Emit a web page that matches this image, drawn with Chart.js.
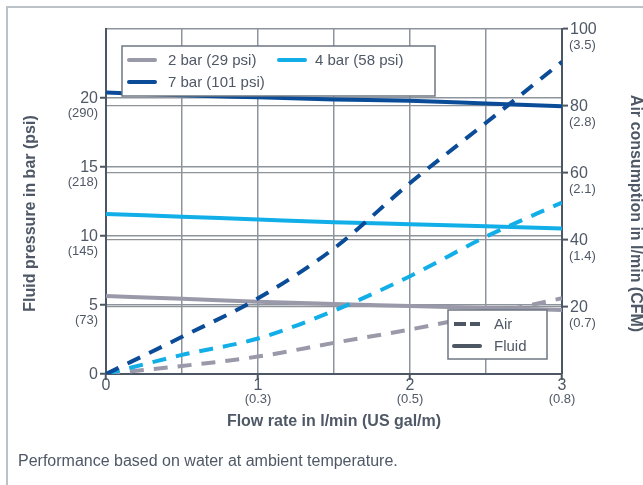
<!DOCTYPE html>
<html>
<head>
<meta charset="utf-8">
<title>Flow rate chart</title>
<script src="https://cdn.jsdelivr.net/npm/chart.js@4.4.1/dist/chart.umd.min.js"></script>
<style>
  html, body { margin: 0; padding: 0; background: #fff; }
  #wrap { position: relative; width: 643px; height: 485px; overflow: hidden; }
  #frame { position: absolute; left: 6px; top: 6px; width: 700px; height: 600px;
           border-left: 2px solid #bcc1c7; border-top: 2px solid #bcc1c7; }
  #chart { position: absolute; left: 0; top: 0; }
  #note { position: absolute; left: 18px; top: 452px; line-height: 18px;
          font: 16px 'Liberation Sans', Arial, sans-serif; color: #4f5866; }
</style>
</head>
<body>
<div id="wrap">
  <div id="frame"></div>
  <canvas id="chart" width="643" height="485"></canvas>
  <div id="note">Performance based on water at ambient temperature.</div>
</div>
<script>
// flow rate in l/min
const flow = [0, 0.5, 1, 1.5, 2, 2.5, 3];

const pressureNames = ['2 bar (29 psi)', '4 bar (58 psi)', '7 bar (101 psi)'];

// fluid pressure, bar (left axis)
const fluid2 = [5.65, 5.45, 5.24, 5.07, 4.93, 4.78, 4.64];
const fluid4 = [11.6, 11.4, 11.2, 11.0, 10.85, 10.7, 10.55];
const fluid7 = [20.4, 20.2, 20.05, 19.9, 19.8, 19.6, 19.4];

// air consumption, l/min (right axis)
const air2 = [0, 2.4, 5.2, 9.3, 13.3, 17.8, 22.6];
const air4 = [0, 5.7, 10.6, 18.9, 29.2, 41.0, 51.2];
const air7 = [0, 11.1, 22.6, 37.5, 57.0, 75.0, 93.2];

// tick labels
const barTicks = [0, 5, 10, 15, 20];
const psiLabels = ['', '(73)', '(145)', '(218)', '(290)'];
const airTicks = [20, 40, 60, 80, 100];
const cfmLabels = ['(0.7)', '(1.4)', '(2.1)', '(2.8)', '(3.5)'];
const flowTicks = [0, 1, 2, 3];
const galLabels = ['', '(0.3)', '(0.5)', '(0.8)'];

const airAxisMax = 103;

const FONT = "'Liberation Sans', Arial, Helvetica, sans-serif";
const TEXT = '#4f5866';
const AXIS = '#4d5663';
const GRID = '#8d949c';
const colors = ['#9a99aa', '#12aee8', '#0b4c98'];

function series(values, label, color, axis, dash) {
    return {
        label: label,
        yAxisID: axis,
        data: flow.map((f, i) => ({ x: f, y: values[i] })),
        borderColor: color,
        borderWidth: 4,
        borderDash: dash,
        pointRadius: 0,
        fill: false,
        cubicInterpolationMode: 'monotone'
    };
}

// first dataset ends up on top, so air curves go first
const datasets = [
    series(air7, pressureNames[2], colors[2], 'y1', [14, 10]),
    series(air4, pressureNames[1], colors[1], 'y1', [14, 10]),
    series(air2, pressureNames[0], colors[0], 'y1', [14, 10]),
    series(fluid7, pressureNames[2], colors[2], 'y', []),
    series(fluid4, pressureNames[1], colors[1], 'y', []),
    series(fluid2, pressureNames[0], colors[0], 'y', [])
];

function sample(ctx, x, y, color, dash) {
    ctx.beginPath();
    ctx.setLineDash(dash);
    ctx.lineCap = dash.length ? 'butt' : 'round';
    ctx.strokeStyle = color;
    ctx.lineWidth = 4;
    ctx.moveTo(x, y);
    ctx.lineTo(x + 26, y);
    ctx.stroke();
    ctx.setLineDash([]);
}

function box(ctx, x, y, w, h) {
    ctx.fillStyle = '#fff';
    ctx.fillRect(x, y, w, h);
    ctx.strokeStyle = '#6f7782';
    ctx.lineWidth = 1.5;
    ctx.strokeRect(x, y, w, h);
}

const legendBoxes = {
    id: 'legendBoxes',
    afterDatasetsDraw(chart) {
        const ctx = chart.ctx;
        const a = chart.chartArea;
        ctx.save();
        ctx.font = '15px ' + FONT;
        ctx.textBaseline = 'middle';
        ctx.textAlign = 'left';

        // pressures
        let bx = a.left + 16, by = a.top + 17;
        box(ctx, bx, by, 313, 50);
        const spots = [[bx + 7, by + 14], [bx + 157, by + 14], [bx + 7, by + 36]];
        pressureNames.forEach((name, i) => {
            const [sx, sy] = spots[i];
            sample(ctx, sx, sy, colors[i], []);
            ctx.fillStyle = TEXT;
            ctx.fillText(name, sx + (i === 1 ? 36 : 39), sy + 1);
        });

        // line styles
        bx = a.left + 342; by = a.top + 281;
        box(ctx, bx, by, 99, 49);
        sample(ctx, bx + 6, by + 14, AXIS, [12, 4]);
        sample(ctx, bx + 6, by + 36, AXIS, []);
        ctx.fillStyle = TEXT;
        ctx.fillText('Air', bx + 46, by + 15);
        ctx.fillText('Fluid', bx + 46, by + 37);
        ctx.restore();
    }
};

const axisText = {
    id: 'axisText',
    afterDraw(chart) {
        const ctx = chart.ctx;
        const { x, y, y1 } = chart.scales;
        const a = chart.chartArea;
        ctx.save();
        ctx.fillStyle = TEXT;
        ctx.textBaseline = 'middle';

        ctx.textAlign = 'right';
        barTicks.forEach((v, i) => {
            const py = y.getPixelForValue(v);
            ctx.font = '16px ' + FONT;
            ctx.fillText(String(v), a.left - 8, py + 1);
            if (psiLabels[i]) {
                ctx.font = '13px ' + FONT;
                ctx.fillText(psiLabels[i], a.left - 8, py + 15);
            }
        });

        ctx.textAlign = 'left';
        y1.ticks.slice(1).forEach((t, i) => {
            const py = y1.getPixelForValue(t.value);
            ctx.font = '16px ' + FONT;
            ctx.fillText(String(airTicks[i]), a.right + 8, py + 1);
            ctx.font = '13px ' + FONT;
            ctx.fillText(cfmLabels[i], a.right + 7, py + 16);
        });

        ctx.textAlign = 'center';
        flowTicks.forEach((v, i) => {
            const px = x.getPixelForValue(v);
            ctx.font = '16px ' + FONT;
            ctx.fillText(String(v), px, a.bottom + 12);
            if (galLabels[i]) {
                ctx.font = '13px ' + FONT;
                ctx.fillText(galLabels[i], px, a.bottom + 25);
            }
        });

        // axis titles
        const midY = (a.top + a.bottom) / 2 + 12;
        ctx.font = 'bold 16px ' + FONT;
        ctx.fillText('Flow rate in l/min (US gal/m)', (a.left + a.right) / 2, a.bottom + 48);

        ctx.save();
        ctx.translate(31, midY);
        ctx.rotate(-Math.PI / 2);
        ctx.fillText('Fluid pressure in bar (psi)', 0, 0);
        ctx.restore();

        ctx.save();
        ctx.translate(635, midY);
        ctx.rotate(Math.PI / 2);
        ctx.fillText('Air consumption in l/min (CFM)', 0, 0);
        ctx.restore();

        ctx.restore();
    }
};

new Chart(document.getElementById('chart'), {
    type: 'line',
    data: { datasets: datasets },
    options: {
        responsive: false,
        animation: false,
        devicePixelRatio: 1,
        layout: { padding: { top: 29 } },
        plugins: { legend: { display: false }, tooltip: { enabled: false } },
        scales: {
            x: {
                type: 'linear',
                position: 'bottom',
                min: 0,
                max: 3,
                ticks: { display: false, stepSize: 0.5 },
                grid: {
                    color: GRID,
                    lineWidth: 1.5,
                    tickLength: 6,
                    tickWidth: 2,
                    tickColor: c => Number.isInteger(c.tick.value) ? AXIS : 'rgba(0,0,0,0)'
                },
                border: { color: AXIS, width: 2 },
                afterFit: s => { s.height = 111; }
            },
            y: {
                type: 'linear',
                position: 'left',
                min: 0,
                max: 25,
                ticks: { display: false, stepSize: 5 },
                grid: {
                    color: c => c.tick.value > 0 ? GRID : 'rgba(0,0,0,0)',
                    lineWidth: 1.5,
                    tickLength: 6,
                    tickWidth: 2,
                    tickColor: c => c.tick.value < 25 ? AXIS : 'rgba(0,0,0,0)'
                },
                border: { color: AXIS, width: 2 },
                afterFit: s => { s.width = 106; }
            },
            y1: {
                type: 'linear',
                position: 'right',
                min: 0,
                max: airAxisMax,
                ticks: { display: false },
                afterBuildTicks: s => {
                    // the top label sits on the frame edge, as in the print
                    s.ticks = [0, ...airTicks].map((v, i) => ({ value: i === airTicks.length ? airAxisMax : v }));
                },
                grid: {
                    color: c => (c.tick.value > 0 && c.tick.value < airAxisMax) ? '#8e9398' : 'rgba(0,0,0,0)',
                    lineWidth: 1.2,
                    dash: [5, 4],
                    tickLength: 6,
                    tickWidth: 2,
                    tickColor: c => c.tick.value > 0 ? AXIS : 'rgba(0,0,0,0)'
                },
                border: { color: AXIS, width: 2 },
                afterFit: s => { s.width = 81; }
            }
        }
    },
    plugins: [legendBoxes, axisText]
});
</script>
</body>
</html>
